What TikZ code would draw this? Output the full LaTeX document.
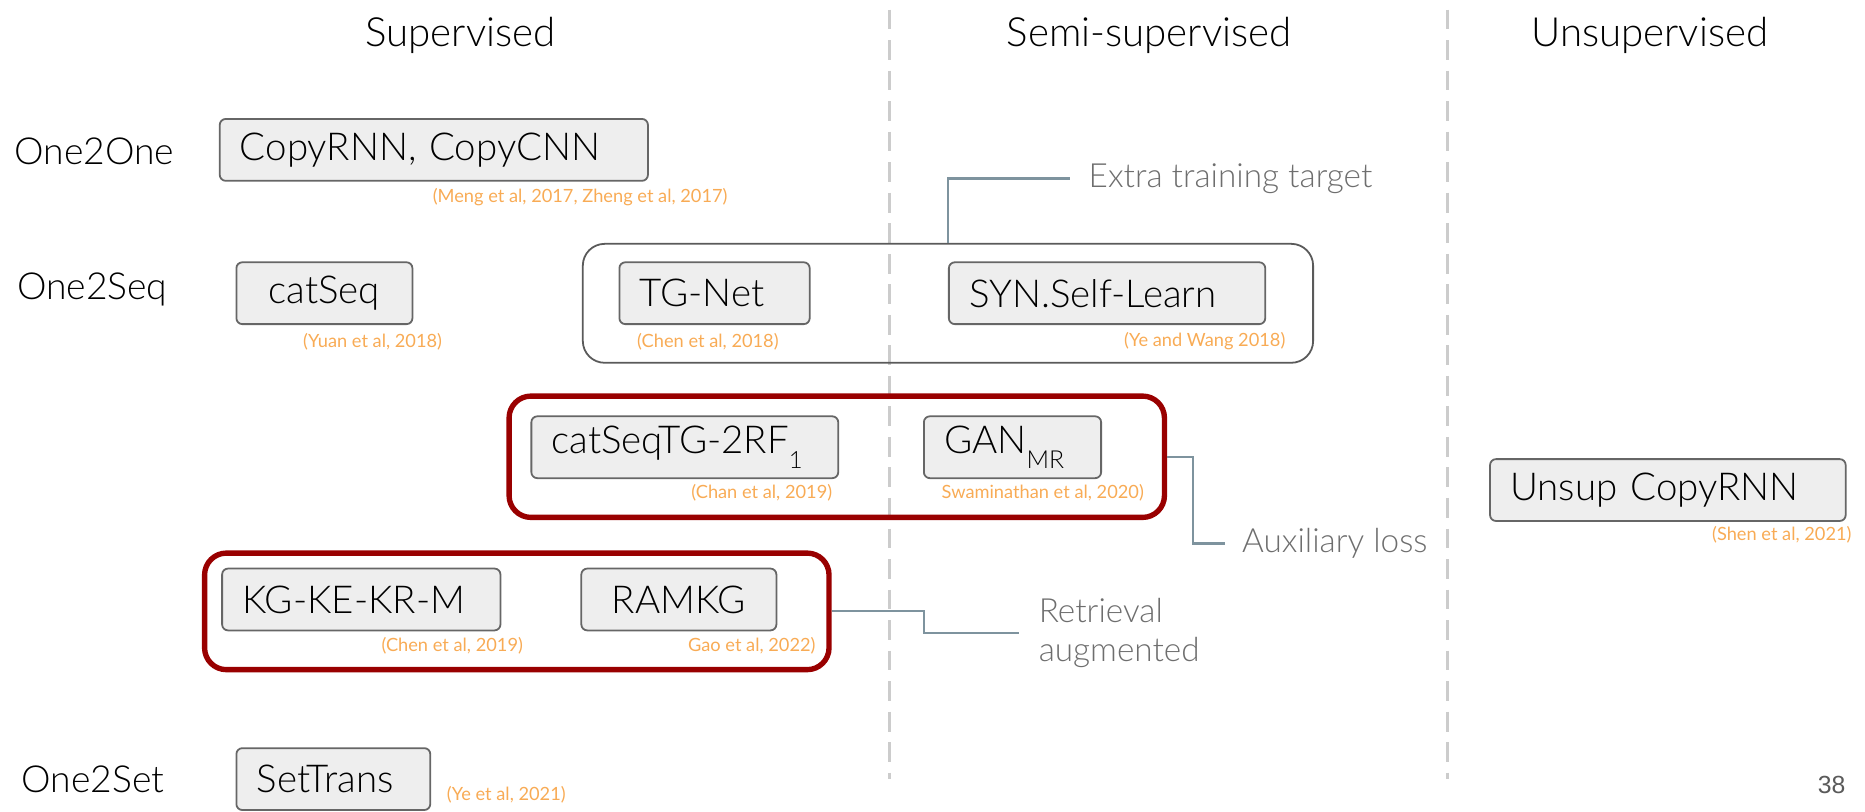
\documentclass[tikz,border=0pt]{standalone}
\usepackage{fontspec}
\setmainfont{Lato Light}
\newfontfamily\citefont{Lato}
\newfontfamily\numfont{Liberation Sans}
\usetikzlibrary{fit}
\definecolor{boxfill}{HTML}{EEEEEE}
\definecolor{boxline}{HTML}{666666}
\definecolor{grpline}{HTML}{5A5A5A}
\definecolor{redline}{HTML}{990000}
\definecolor{conncol}{HTML}{7E939E}
\definecolor{annocol}{HTML}{6E6E6E}
\definecolor{citecol}{HTML}{F8AB55}
\definecolor{dashcol}{HTML}{CCCCCC}
\tikzset{
  x=0.6pt, y=-0.6pt,
  box/.style={draw=boxline, fill=boxfill, line width=0.9pt, rounded corners=3pt,
    inner xsep=10.2pt, inner ysep=0pt, minimum height=31.2pt, anchor=west, align=left,
    font=\fontsize{19.4}{23}\selectfont},
  grp/.style={draw=grpline, line width=0.9pt, rounded corners=11pt, inner sep=0pt},
  redgrp/.style={draw=redline, line width=2.7pt, rounded corners=11pt, inner sep=0pt},
  cite/.style={text=citecol, font=\citefont\fontsize{9.2}{11}\selectfont, inner sep=0pt, anchor=east},
  head/.style={font=\fontsize{20.3}{24}\selectfont, inner sep=0pt},
  rowlab/.style={font=\fontsize{18.8}{22}\selectfont, inner sep=0pt, anchor=west},
  anno/.style={text=annocol, font=\fontsize{16.8}{19.5}\selectfont, inner sep=0pt, anchor=west, align=left},
  conn/.style={draw=conncol, line width=1.1pt},
  divider/.style={draw=dashcol, line width=1.8pt, dash pattern=on 10pt off 5.4pt},
}
\begin{document}
\begin{tikzpicture}
\useasboundingbox (0,0) rectangle (1568,682);
% column dividers
\draw[divider] (748,8) -- (748,655);
\draw[divider] (1217,8) -- (1217,655);
% headers
\node[head] (hsup) at (387,30) {Supervised};
\node[head] (hsemi) at (966,30) {Semi-supervised};
\node[head] (hunsup) at (1387,30) {Unsupervised};
% row labels
\node[rowlab] (r121) at (12,127) {One2One};
\node[rowlab] (r12q) at (14,243) {One2Seq};
\node[rowlab] (r12s) at (18,655) {One2Set};
% groups
\node[grp, fit={(490,205) (1104,305)}] (grp) {};
\node[redgrp, fit={(428,333) (979,435)}] (red1) {};
\node[redgrp, fit={(172,465) (697,563)}] (red2) {};
% boxes
\node[box, text width=195.6pt] (copy) at (184,126) {CopyRNN, CopyCNN};
\node[box, text width=68.4pt, align=center] (catseq) at (198,246.5) {catSeq};
\node[box, text width=75.6pt] (tgnet) at (520,246.5) {TG-Net};
\node[box, text width=139.2pt] (syn) at (797,246.5) {SYN.Self-Learn};
\node[box, text width=134.4pt] (cstg) at (446,376) {catSeqTG-2RF\raisebox{-0.4em}{\fontsize{12}{13}\selectfont 1}};
\node[box, text width=69pt] (gan) at (776,376) {GAN\raisebox{-0.4em}{\fontsize{12.5}{13}\selectfont MR}};
\node[box, text width=120pt] (kg) at (186,504) {KG-KE-KR-M};
\node[box, text width=78pt, align=center] (ramkg) at (488,504) {RAMKG};
\node[box, text width=159pt] (unsup) at (1252,412) {Unsup CopyRNN};
\node[box, text width=77.4pt] (settrans) at (198,655) {SetTrans};
% citations
\node[cite] (cmeng) at (612,166) {(Meng et al, 2017, Zheng et al, 2017)};
\node[cite] (cyuan) at (372,287) {(Yuan et al, 2018)};
\node[cite] (cchen18) at (655,287) {(Chen et al, 2018)};
\node[cite] (cye18) at (1081,287) {(Ye and Wang 2018)};
\node[cite] (cchan) at (700,414) {(Chan et al, 2019)};
\node[cite] (cswam) at (962,414) {Swaminathan et al, 2020)};
\node[cite] (cchen19) at (440,543) {(Chen et al, 2019)};
\node[cite] (cgao) at (686,543) {Gao et al, 2022)};
\node[cite] (cshen) at (1557,450) {(Shen et al, 2021)};
\node[cite] (cye21) at (476,668) {(Ye et al, 2021)};
% annotations
\node[anno] (extra) at (915,150) {Extra training target};
\node[anno] (aux) at (1044,457) {Auxiliary loss};
\node[anno] (retr) at (873,532) {Retrieval\\augmented};
% connectors
\coordinate (extraend) at ([xshift=-9pt]extra.west);
\coordinate (auxend) at ([xshift=-8.4pt]aux.west);
\coordinate (retrend) at ([xshift=-9.6pt]retr.west);
\draw[conn] (syn.west |- grp.north) |- (extraend);
\draw[conn] (red1.east) -- (1003,384) |- (auxend);
\draw[conn] (red2.east) -- (777,514) |- (retrend);
% page number
\node[text=grpline, font=\numfont\fontsize{12.5}{15}\selectfont, inner sep=0pt] (page) at (1540,660) {38};
\end{tikzpicture}
\end{document}
